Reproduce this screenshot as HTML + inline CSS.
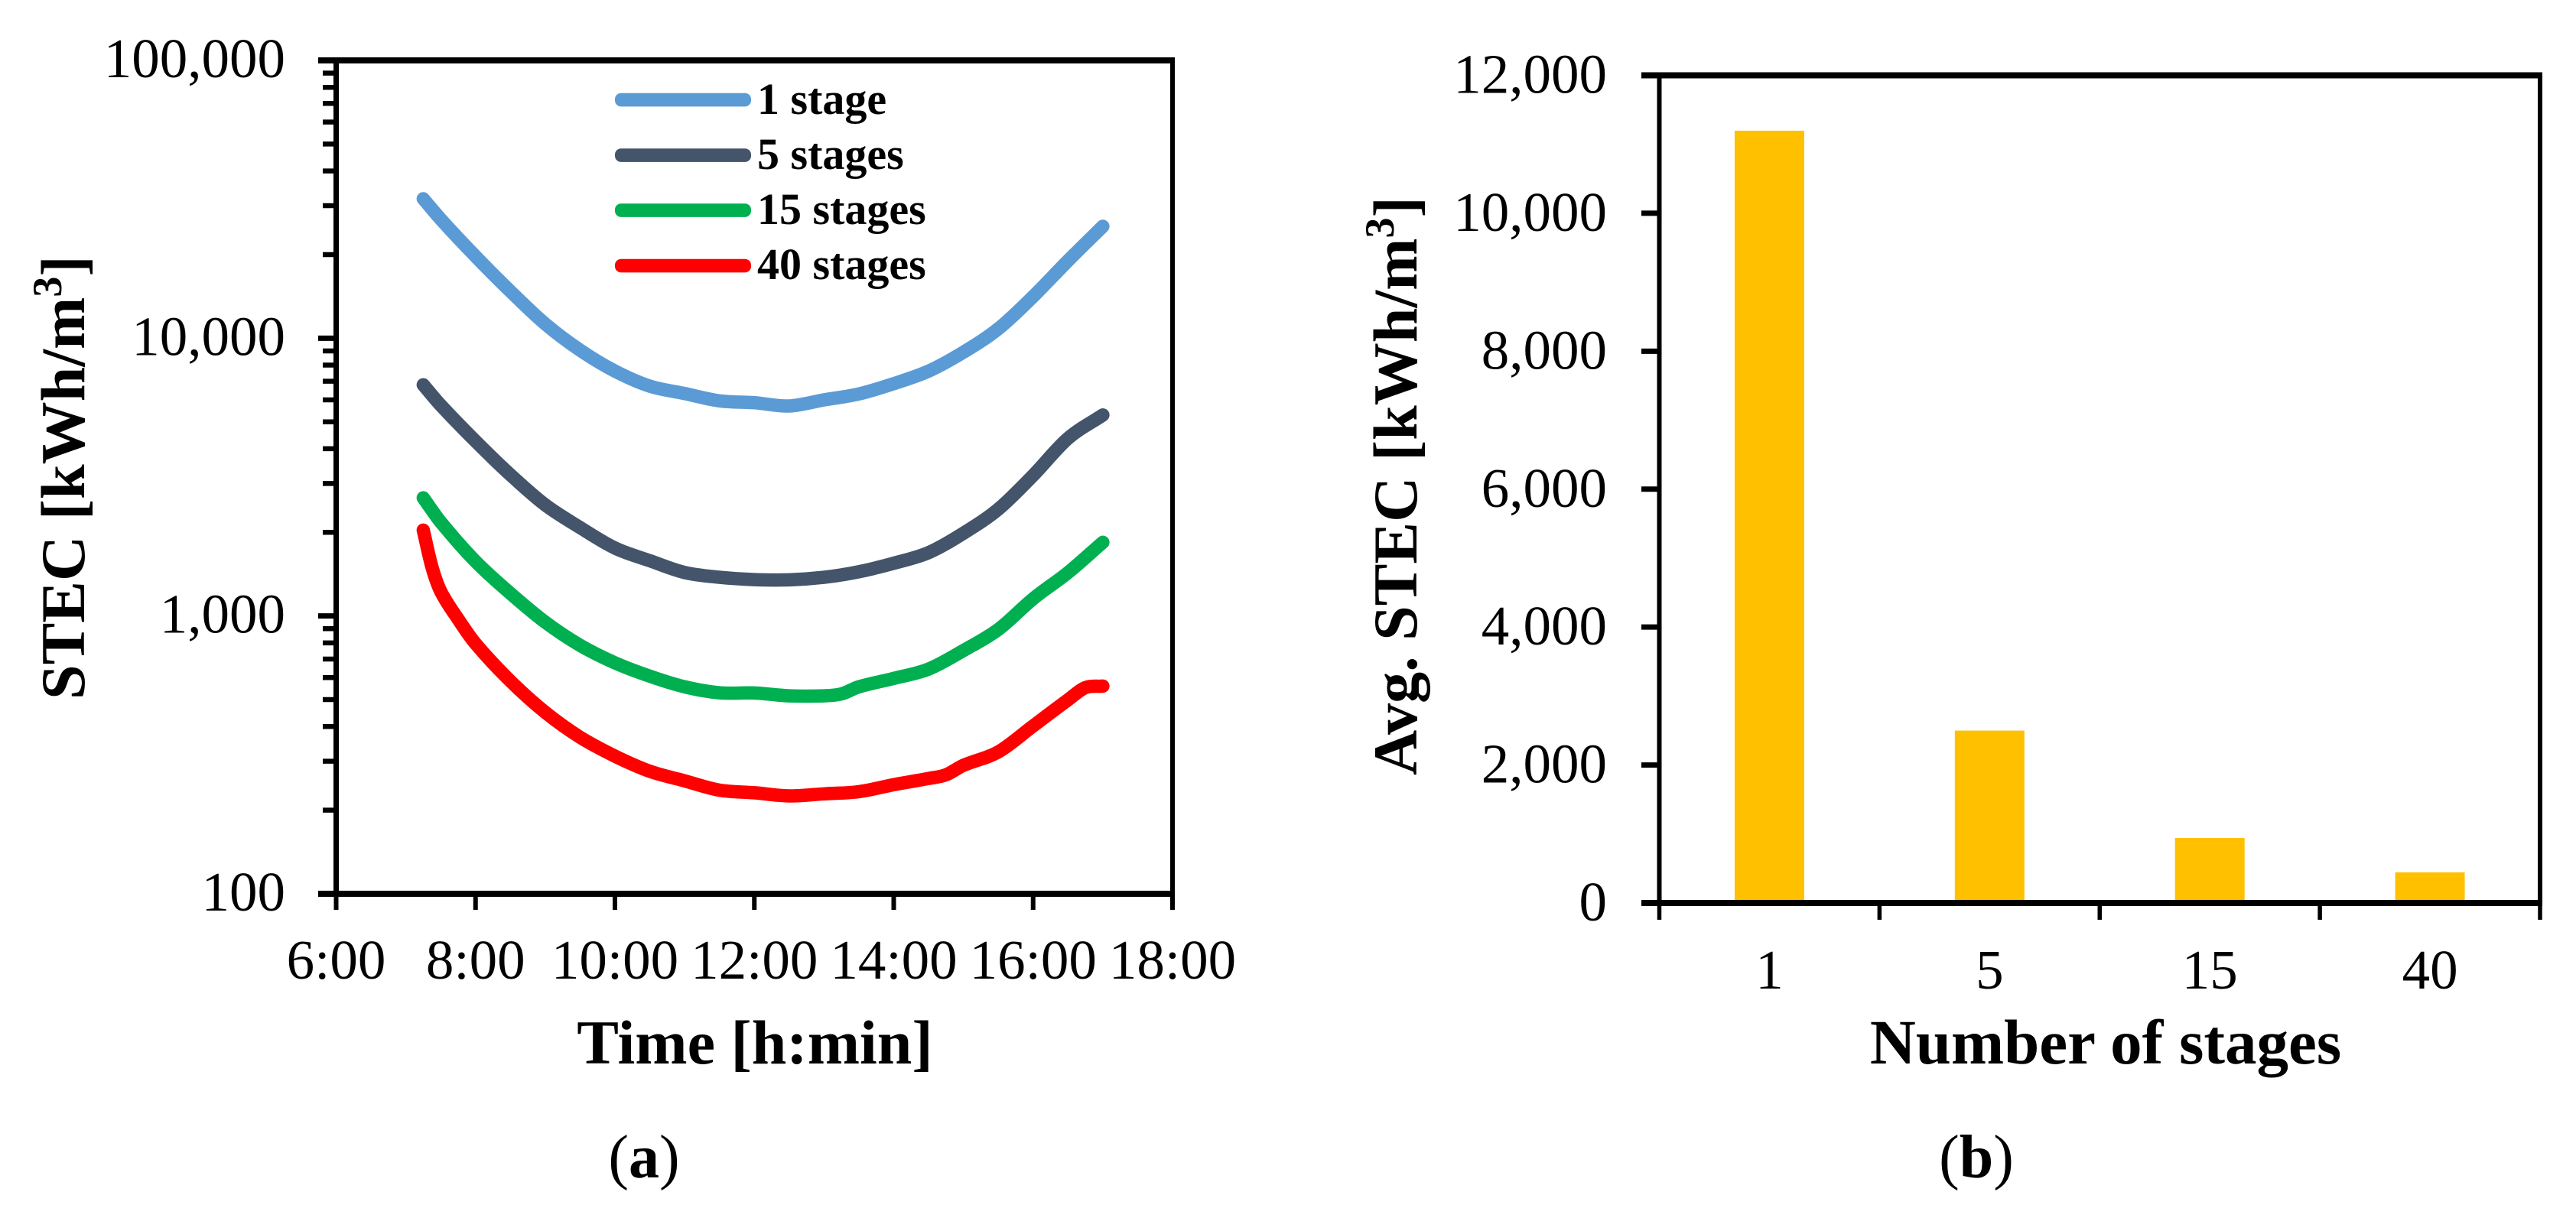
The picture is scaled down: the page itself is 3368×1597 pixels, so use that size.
<!DOCTYPE html>
<html lang="en">
<head>
<meta charset="utf-8">
<title>STEC by time and number of stages</title>
<style>
html,body{margin:0;padding:0;background:#fff;}
svg{display:block;}
text{font-family:"Liberation Serif",serif;fill:#000;}
.tick{font-size:73px;}
.title{font-size:82px;font-weight:bold;}
.legend{font-size:58px;font-weight:bold;}
</style>
</head>
<body>
<svg id="figure" xmlns="http://www.w3.org/2000/svg" width="3368" height="1597" viewBox="0 0 3368 1597">
  <rect x="0" y="0" width="3368" height="1597" fill="#ffffff"/>
  <g id="chart-a"></g>
  <g id="chart-b"></g>

  <text class="title" x="987" y="1391" text-anchor="middle">Time [h:min]</text>
  <text class="title" transform="translate(110,915) rotate(-90)">STEC [kWh/m<tspan font-size="54" dy="-30">3</tspan><tspan dy="30">]</tspan></text>
  <text x="842" y="1540" text-anchor="middle" font-size="80">(<tspan font-weight="bold">a</tspan>)</text>

  <text class="title" x="2753" y="1391" text-anchor="middle" style="font-size:83px">Number of stages</text>
  <text class="title" transform="translate(1852,1014) rotate(-90)" style="font-size:82px">Avg. STEC [kWh/m<tspan font-size="54" dy="-30">3</tspan><tspan dy="30">]</tspan></text>
  <text x="2584" y="1540" text-anchor="middle" font-size="80">(<tspan font-weight="bold">b</tspan>)</text>

  <g>
    <g>
      <rect x="804" y="121.7" width="178" height="17.7" rx="8" fill="#5B9BD5"/>
      <text class="legend" x="990" y="149">1 stage</text>
    </g>
    <g>
      <rect x="804" y="194.2" width="178" height="17.7" rx="8" fill="#44546A"/>
      <text class="legend" x="990" y="221">5 stages</text>
    </g>
    <g>
      <rect x="804" y="266.2" width="178" height="17.7" rx="8" fill="#00B050"/>
      <text class="legend" x="990" y="293">15 stages</text>
    </g>
    <g>
      <rect x="804" y="338.7" width="178" height="17.7" rx="8" fill="#FF0000"/>
      <text class="legend" x="990" y="365">40 stages</text>
    </g>
  </g>
</svg>

<script>
// ---------- Chart (a) data: time in hours, STEC in kWh/m3 ----------
const timesCommon = [7.25,7.5,8,8.5,9,9.5,10,10.5,11,11.5,12,12.5,13,13.5,14,14.5,15,15.5,16,16.5,17];
const stage1Values = [31760,26810,19700,14750,11250,9053,7613,6720,6320,5947,5859,5700,5997,6297,6862,7613,8900,10810,14130,19000,25280];
const stage5Values = [6794,5737,4258,3222,2511,2081,1756,1581,1434,1378,1352,1349,1378,1443,1548,1691,1986,2423,3208,4358,5292];
const timesStage15 = [7.25,7.5,8,8.5,9,9.5,10,10.5,11,11.5,12,12.5,13,13.25,13.5,14,14.5,15,15.5,16,16.5,17];
const stage15Values = [2664,2179,1571,1206,950,784,678,607,556,529,528,516,516,524,556,596,644,751,894,1154,1432,1842];
const timesStage40 = [7.25,7.375,7.5,7.75,8,8.5,9,9.5,10,10.5,11,11.5,12,12.5,13,13.5,14,14.5,14.75,15,15.5,16,16.5,16.75,17];
const stage40Values = [2037,1499,1227,974,795,583,450,366,313,276,255,236,231,225,229,233,247,260,268,290,324,402,499,552,559];
const timeTicks = [6,8,10,12,14,16,18];
const timeTickLabels = ["6:00","8:00","10:00","12:00","14:00","16:00","18:00"];
const logMajorTicks = [100,1000,10000,100000];
const logTickLabels = ["100","1,000","10,000","100,000"];
const logMinorMultipliers = [2,3,4,5,6,7,8,9];

// ---------- Chart (b) data ----------
const stageCategories = ["1","5","15","40"];
const avgStecValues = [11197,2499,942,443];
const avgTicks = [0,2000,4000,6000,8000,10000,12000];
const avgTickLabels = ["0","2,000","4,000","6,000","8,000","10,000","12,000"];

const NS = "http://www.w3.org/2000/svg";
function el(parent, tag, attrs) {
  const n = document.createElementNS(NS, tag);
  for (const k in attrs) n.setAttribute(k, attrs[k]);
  parent.appendChild(n);
  return n;
}

// ---------- Chart (a) ----------
const aG = document.getElementById("chart-a");
const aL = 439.5, aR = 1533, aT = 79, aB = 1169;
const xTime = t => aL + (t - 6) / 12 * (aR - aL);
const yLog = v => aB - (Math.log10(v) - 2) / 3 * (aB - aT);

// Cubic Hermite spline with finite-difference slopes; handles uneven x spacing.
function smoothPath(pts) {
  const n = pts.length;
  const slope = pts.map((p, i) => {
    const a = pts[Math.max(i - 1, 0)], b = pts[Math.min(i + 1, n - 1)];
    return (b[1] - a[1]) / (b[0] - a[0]);
  });
  let d = "M" + pts[0][0].toFixed(1) + " " + pts[0][1].toFixed(1);
  for (let i = 0; i < n - 1; i++) {
    const h = pts[i + 1][0] - pts[i][0];
    const c1x = pts[i][0] + h / 3, c1y = pts[i][1] + slope[i] * h / 3;
    const c2x = pts[i + 1][0] - h / 3, c2y = pts[i + 1][1] - slope[i + 1] * h / 3;
    d += "C" + c1x.toFixed(1) + " " + c1y.toFixed(1) + " " + c2x.toFixed(1) + " " + c2y.toFixed(1) + " " + pts[i + 1][0].toFixed(1) + " " + pts[i + 1][1].toFixed(1);
  }
  return d;
}

// frame
const aFrameL = el(aG, "line", {x1:aL, x2:aL, y1:aT, y2:aB, stroke:"#000", "stroke-width":7});


const aFrameR = el(aG, "line", {x1:aR, x2:aR, y1:aT, y2:aB, stroke:"#000", "stroke-width":6});


const aFrameT = el(aG, "line", {x1:416, x2:aR + 3, y1:aT, y2:aT, stroke:"#000", "stroke-width":8});


const aFrameB = el(aG, "line", {x1:416, x2:aR + 3, y1:aB, y2:aB, stroke:"#000", "stroke-width":8});



// log y ticks
logMajorTicks.forEach((v, i) => {
  const y = yLog(v);
  const tick = el(aG, "line", {x1:416, x2:aL, y1:y, y2:y, stroke:"#000", "stroke-width":7});
  
  
  const label = el(aG, "text", {x:373, y:y + 22, "text-anchor":"end", class:"tick"});
  label.textContent = logTickLabels[i];
  
  
  if (i < logMajorTicks.length - 1) {
    logMinorMultipliers.forEach(m => {
      const ym = yLog(v * m);
      const minor = el(aG, "line", {x1:422, x2:aL, y1:ym, y2:ym, stroke:"#000", "stroke-width":6.5});
      
      
    });
  }
});

// x ticks
timeTicks.forEach((t, i) => {
  const x = xTime(t);
  const tick = el(aG, "line", {x1:x, x2:x, y1:aB, y2:1190, stroke:"#000", "stroke-width":6});
  
  
  const label = el(aG, "text", {x:x, y:1280, "text-anchor":"middle", class:"tick"});
  label.textContent = timeTickLabels[i];
  
  
});

// series
function drawSeries(times, values, color) {
  const pts = times.map((t, i) => [xTime(t), yLog(values[i])]);
  return el(aG, "path", {d:smoothPath(pts), fill:"none", stroke:color, "stroke-width":17.5, "stroke-linecap":"round", "stroke-linejoin":"round"});
}
const line1 = drawSeries(timesCommon, stage1Values, "#5B9BD5");


const line5 = drawSeries(timesCommon, stage5Values, "#44546A");


const line15 = drawSeries(timesStage15, stage15Values, "#00B050");


const line40 = drawSeries(timesStage40, stage40Values, "#FF0000");



// ---------- Chart (b) ----------
const bG = document.getElementById("chart-b");
const bL = 2169.5, bR = 3321, bT = 98.5, bB = 1181;
const yAvg = v => bB - v / 12000 * (bB - bT);
const bandW = (bR - bL) / stageCategories.length;
const barW = bandW * 0.316;

// bars first, beneath the axis
stageCategories.forEach((c, i) => {
  const cx = bL + bandW * (i + 0.5);
  const bar = el(bG, "rect", {x:cx - barW / 2, y:yAvg(avgStecValues[i]), width:barW, height:bB - yAvg(avgStecValues[i]), fill:"#FFC000"});
  
  
  const label = el(bG, "text", {x:cx, y:1293, "text-anchor":"middle", class:"tick"});
  label.textContent = c;
  
  
});

const bFrameL = el(bG, "line", {x1:bL, x2:bL, y1:bT, y2:bB, stroke:"#000", "stroke-width":6});


const bFrameR = el(bG, "line", {x1:bR, x2:bR, y1:bT, y2:bB, stroke:"#000", "stroke-width":6});


const bFrameT = el(bG, "line", {x1:2146, x2:bR + 3, y1:bT, y2:bT, stroke:"#000", "stroke-width":8});


const bFrameB = el(bG, "line", {x1:2146, x2:bR + 3, y1:bB, y2:bB, stroke:"#000", "stroke-width":8});



avgTicks.forEach((v, i) => {
  const y = yAvg(v);
  const tick = el(bG, "line", {x1:2146, x2:bL, y1:y, y2:y, stroke:"#000", "stroke-width":7});
  
  
  const label = el(bG, "text", {x:2101, y:y + 23, "text-anchor":"end", class:"tick"});
  label.textContent = avgTickLabels[i];
  
  
});

for (let i = 0; i <= stageCategories.length; i++) {
  const x = bL + bandW * i;
  const tick = el(bG, "line", {x1:x, x2:x, y1:bB, y2:1203, stroke:"#000", "stroke-width":5.5});
  
  
}
</script>
</body>
</html>
